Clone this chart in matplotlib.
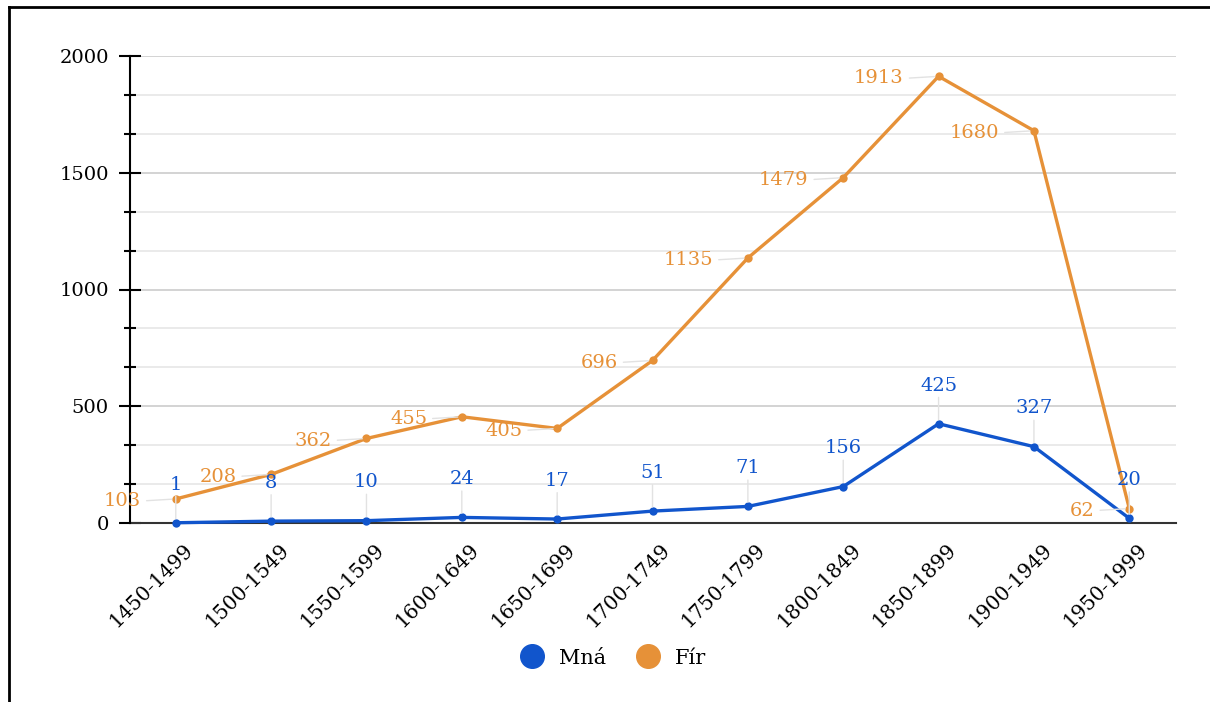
import matplotlib
matplotlib.use("Agg")
import matplotlib.pyplot as plt
from matplotlib.lines import Line2D
from matplotlib.ticker import MultipleLocator
import matplotlib.transforms as mtransforms
import numpy as np

categories = ["1450-1499", "1500-1549", "1550-1599", "1600-1649", "1650-1699",
              "1700-1749", "1750-1799", "1800-1849", "1850-1899", "1900-1949", "1950-1999"]
mna = [1, 8, 10, 24, 17, 51, 71, 156, 425, 327, 20]
fir = [103, 208, 362, 455, 405, 696, 1135, 1479, 1913, 1680, 62]
series_names = ["Mná", "Fír"]

BLUE = "#1155cc"
ORANGE = "#e69138"
FONT = "DejaVu Serif"
plt.rcParams['font.family'] = [FONT]

fig = plt.figure(figsize=(12.1, 7.02), dpi=100)
ax = fig.add_axes([130/1210, (702-523)/702, (1176-130)/1210, (523-56)/702])

x = np.arange(len(categories))
ax.set_xlim(-0.48, len(categories) - 1 + 0.49)
ax.set_ylim(0, 2000)

# grid
ax.yaxis.set_major_locator(MultipleLocator(500))
ax.yaxis.set_minor_locator(MultipleLocator(500/3))
ax.grid(True, which='major', axis='y', color='#cccccc', lw=1.2, zorder=0)
ax.grid(True, which='minor', axis='y', color='#e6e6e6', lw=1.2, zorder=0)
ax.set_axisbelow(True)

ax.plot(x, fir, color=ORANGE, lw=2.4, marker='o', ms=6, mfc=ORANGE, mec=ORANGE,
        mew=0, zorder=3, clip_on=False)
ax.plot(x, mna, color=BLUE, lw=2.4, marker='o', ms=6, mfc=BLUE, mec=BLUE,
        mew=0, zorder=4, clip_on=False)

# labels
for xi, v in zip(x, mna):
    ax.annotate(str(v), (xi, v), xytext=(0, 21), textcoords='offset points',
                ha='center', va='bottom', color=BLUE, fontsize=14, zorder=5,
                arrowprops=dict(arrowstyle='-', color='#e2e2e2', lw=1.0,
                                shrinkA=0, shrinkB=3, relpos=(0.5, 0.0)))
for xi, v in zip(x, fir):
    ax.annotate(str(v), (xi, v), xytext=(-25, -1.5), textcoords='offset points',
                ha='right', va='center', color=ORANGE, fontsize=14, zorder=5,
                arrowprops=dict(arrowstyle='-', color='#e2e2e2', lw=1.0,
                                shrinkA=2, shrinkB=3, relpos=(1.0, 0.5)))

# axes styling
for s in ['top', 'right']:
    ax.spines[s].set_visible(False)
ax.spines['left'].set_color('black')
ax.spines['left'].set_linewidth(1.5)
ax.spines['bottom'].set_color('#333333')
ax.spines['bottom'].set_linewidth(1.5)
ax.spines['bottom'].set_zorder(2)

ax.set_yticks([0, 500, 1000, 1500, 2000])
ax.set_yticklabels(["0", "500", "1000", "1500", "2000"])
ax.tick_params(axis='y', which='major', direction='inout', length=16.5, width=1.5,
               color='black', labelsize=14, pad=7)
ax.tick_params(axis='y', which='minor', direction='inout', length=9, width=1.5, color='black')

ax.set_xticks(x)
ax.set_xticklabels(categories, rotation=45, ha='right', rotation_mode='anchor', fontsize=14.5)
ax.tick_params(axis='x', length=0, pad=12)
offset = mtransforms.ScaledTranslation(8/100, 0, fig.dpi_scale_trans)
for lab in ax.get_xticklabels():
    lab.set_transform(lab.get_transform() + offset)

# legend
handles = [Line2D([], [], marker='o', ls='none', ms=17, color=BLUE, mec=BLUE),
           Line2D([], [], marker='o', ls='none', ms=17, color=ORANGE, mec=ORANGE)]
fig.legend(handles, series_names, loc='center', bbox_to_anchor=(613/1210, 1 - 658/702),
           ncol=2, frameon=False, fontsize=15, handletextpad=0.7, columnspacing=1.4,
           handlelength=1.2)

# border lines of screenshot
fig.add_artist(Line2D([9/1210, 9/1210], [0, 1 - 7/702], color='black', lw=2,
                      transform=fig.transFigure))
fig.add_artist(Line2D([9/1210, 1], [1 - 7/702, 1 - 7/702], color='black', lw=2,
                      transform=fig.transFigure))

fig.savefig("out.png", dpi=100)
